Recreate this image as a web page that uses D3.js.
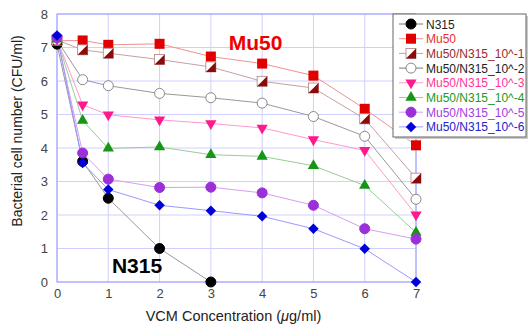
<!DOCTYPE html>
<html>
<head>
<meta charset="utf-8">
<script src="https://cdn.jsdelivr.net/npm/d3@7"></script>
<style>
  body { margin: 0; background: #fff; }
  text { font-family: "Liberation Sans", Arial, sans-serif; }
</style>
</head>
<body>
<div id="chart"></div>
<script>
// Data
var concentrations = [0, 0.5, 1, 2, 3, 4, 5, 6, 7];
var n315 = [7.1, 3.6, 2.5, 1.0, 0.0];
var mu50 = [7.2, 7.21, 7.08, 7.11, 6.73, 6.52, 6.16, 5.17, 4.08];
var mix1 = [7.22, 6.93, 6.83, 6.64, 6.42, 5.99, 5.79, 4.87, 3.1];
var mix2 = [7.22, 6.04, 5.86, 5.63, 5.5, 5.34, 4.94, 4.35, 2.47];
var mix3 = [7.25, 5.29, 4.99, 4.84, 4.73, 4.6, 4.25, 3.93, 2.01];
var mix4 = [7.25, 4.82, 3.99, 4.03, 3.8, 3.75, 3.47, 2.88, 1.48];
var mix5 = [7.3, 3.85, 3.07, 2.82, 2.83, 2.66, 2.29, 1.59, 1.28];
var mix6 = [7.36, 3.55, 2.76, 2.29, 2.13, 1.96, 1.59, 0.99, 0.0];
var xTicks = [0, 1, 2, 3, 4, 5, 6, 7];
var yTicks = [0, 1, 2, 3, 4, 5, 6, 7, 8];

var series = [
  {name: "N315", values: n315, line: "#999", fill: "#000", stroke: "#000", text: "#222", shape: "circle"},
  {name: "Mu50", values: mu50, line: "#f09090", fill: "#e00000", stroke: "#e00000", text: "#e83030", shape: "square"},
  {name: "Mu50/N315_10^-1", values: mix1, line: "#c8a0a0", fill: "#8b0a0a", stroke: "#8b0a0a", text: "#9a2a2a", shape: "half"},
  {name: "Mu50/N315_10^-2", values: mix2, line: "#999", fill: "#fff", stroke: "#888", text: "#222", shape: "circle"},
  {name: "Mu50/N315_10^-3", values: mix3, line: "#ff99cc", fill: "#ff1a8c", stroke: "#ff1a8c", text: "#ff3399", shape: "tdown"},
  {name: "Mu50/N315_10^-4", values: mix4, line: "#99cc99", fill: "#159615", stroke: "#159615", text: "#229922", shape: "tup"},
  {name: "Mu50/N315_10^-5", values: mix5, line: "#d99ef0", fill: "#9b30d9", stroke: "#9b30d9", text: "#a040e0", shape: "circle"},
  {name: "Mu50/N315_10^-6", values: mix6, line: "#9999ff", fill: "#0000dd", stroke: "#0000dd", text: "#2222cc", shape: "diamond"}
];

var svgWidth = 530;
var svgHeight = 326;
var margin = {top: 14, right: 114, bottom: 44, left: 57};
var width = svgWidth - margin.left - margin.right;
var height = svgHeight - margin.top - margin.bottom;

var svg = d3.select("#chart").append("svg")
  .attr("width", svgWidth)
  .attr("height", svgHeight);

var chartGroup = svg.append("g")
  .attr("transform", `translate(${margin.left}, ${margin.top})`);

var x = d3.scaleLinear().domain([0, 7]).range([0, width]);
var y = d3.scaleLinear().domain([0, 8]).range([height, 0]);

// grid
chartGroup.append("g").selectAll("line").data(xTicks).enter().append("line")
  .attr("x1", d => x(d)).attr("x2", d => x(d))
  .attr("y1", 0).attr("y2", height)
  .attr("stroke", "#d0d0ff").attr("stroke-width", 1);
chartGroup.append("g").selectAll("line").data(yTicks).enter().append("line")
  .attr("x1", 0).attr("x2", width)
  .attr("y1", d => y(d)).attr("y2", d => y(d))
  .attr("stroke", "#d0d0ff").attr("stroke-width", 1);

// frame
chartGroup.append("rect")
  .attr("width", width).attr("height", height)
  .attr("fill", "none").attr("stroke", "#9a9aff").attr("stroke-width", 1);

// axes
var bottomAxis = d3.axisBottom(x).tickValues(xTicks).tickFormat(d3.format("d")).tickSize(0).tickPadding(7);
var leftAxis = d3.axisLeft(y).tickValues(yTicks).tickFormat(d3.format("d")).tickSize(0).tickPadding(9);

var gx = chartGroup.append("g").attr("transform", `translate(0, ${height})`).call(bottomAxis);
var gy = chartGroup.append("g").call(leftAxis);
[gx, gy].forEach(function(g) {
  g.select(".domain").remove();
  g.selectAll("text").attr("fill", "#444").attr("font-size", 13)
    .attr("font-family", "'DejaVu Sans', sans-serif");
});

// marker shapes
function drawMarker(g, s, cx, cy) {
  if (s.shape === "circle") {
    g.append("circle").attr("cx", cx).attr("cy", cy).attr("r", 5)
      .attr("fill", s.fill).attr("stroke", s.stroke).attr("stroke-width", 1);
  } else if (s.shape === "square") {
    g.append("rect").attr("x", cx - 5).attr("y", cy - 5).attr("width", 10).attr("height", 10)
      .attr("fill", s.fill);
  } else if (s.shape === "half") {
    g.append("rect").attr("x", cx - 5).attr("y", cy - 5).attr("width", 10).attr("height", 10)
      .attr("fill", "#fff").attr("stroke", "#b08080").attr("stroke-width", 0.8);
    g.append("path")
      .attr("d", `M${cx + 5},${cy - 5}L${cx + 5},${cy + 5}L${cx - 5},${cy + 5}Z`)
      .attr("fill", s.fill);
  } else if (s.shape === "tdown") {
    g.append("path").attr("d", d3.symbol().type(d3.symbolTriangle).size(55)())
      .attr("transform", `translate(${cx},${cy}) rotate(180)`).attr("fill", s.fill);
  } else if (s.shape === "tup") {
    g.append("path").attr("d", d3.symbol().type(d3.symbolTriangle).size(55)())
      .attr("transform", `translate(${cx},${cy})`).attr("fill", s.fill);
  } else if (s.shape === "diamond") {
    g.append("path").attr("d", d3.symbol().type(d3.symbolSquare).size(55)())
      .attr("transform", `translate(${cx},${cy}) rotate(45)`).attr("fill", s.fill);
  }
}

var line = d3.line()
  .x((d, i) => x(concentrations[i]))
  .y(d => y(d));

series.forEach(function(s) {
  chartGroup.append("path")
    .datum(s.values)
    .attr("d", line)
    .attr("fill", "none")
    .attr("stroke", s.line)
    .attr("stroke-width", 1);
});

series.forEach(function(s) {
  var g = chartGroup.append("g");
  s.values.forEach(function(v, i) {
    drawMarker(g, s, x(concentrations[i]), y(v));
  });
});

// annotations
chartGroup.append("text")
  .attr("x", x(3.35)).attr("y", y(6.93))
  .attr("font-size", 21).attr("font-weight", "bold").attr("fill", "#ee0000")
  .text("Mu50");
chartGroup.append("text")
  .attr("x", x(1.07)).attr("y", y(0.26))
  .attr("font-size", 21).attr("font-weight", "bold").attr("fill", "#000")
  .text("N315");

// axis titles
svg.append("text")
  .attr("x", margin.left + width / 2 - 3).attr("y", 321)
  .attr("text-anchor", "middle").attr("font-size", 14.5).attr("fill", "#222")
  .attr("font-family", "'DejaVu Sans', sans-serif")
  .html("VCM Concentration (<tspan font-style='italic'>μ</tspan>g/ml)");

svg.append("text")
  .attr("transform", `translate(22, 131) rotate(-90)`)
  .attr("text-anchor", "middle").attr("font-size", 14).attr("fill", "#222")
  .attr("font-family", "'DejaVu Sans', sans-serif")
  .text("Bacterial cell number (CFU/ml)");

// legend
var legend = svg.append("g").attr("transform", "translate(393, 14)");
legend.append("rect").attr("x", 2).attr("y", 2).attr("width", 133).attr("height", 123).attr("fill", "#ccc");
legend.append("rect").attr("width", 133).attr("height", 123)
  .attr("fill", "#fff").attr("stroke", "#666").attr("stroke-width", 1);

series.forEach(function(s, i) {
  var ly = 10 + i * 14.7;
  legend.append("line").attr("x1", 6).attr("x2", 30).attr("y1", ly).attr("y2", ly)
    .attr("stroke", s.line === "#999" ? "#777" : s.line).attr("stroke-width", 1);
  drawMarker(legend, s, 18, ly);
  legend.append("text").attr("x", 33).attr("y", ly + 4.5)
    .attr("font-size", 12).attr("fill", s.text)
    .attr("font-family", "'DejaVu Sans', sans-serif")
    .text(s.name);
});
</script>
</body>
</html>
